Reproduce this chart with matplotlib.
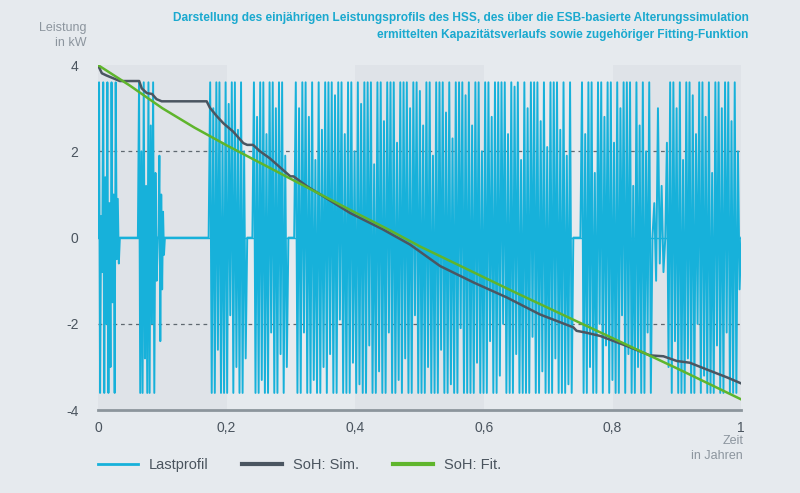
import numpy as np
import matplotlib.pyplot as plt
from matplotlib.lines import Line2D

# Lastprofil (Leistung in 0,1 kW), abschnittsweise: (Start, Ende, Werte)
seg1_vals = [0, 36, -36, 5, -8, 36, -36, 14, -20, 36, -36, 8, -30, 36, -15, 10, -36, 36, -5, 9, -6, 0]
seg2_vals = [0, 36, -36, 20, -36, 36, -28, 12, -36, 36, -36, 26, -20, 36, -36, 15, -10, 0]
seg3_vals = [0, 19, -24, 10, -12, 6, -4, 0]
seg4_vals = [0, 36, -36, 30, -36, 36, -26, 36, -36, 22, -36, 36, -36, 31, -18, 36, -36, 36, -30, 25,
             -36, 36, -36, 20, -28, 0]
seg5_vals = [0, 36, -36, 28, -36, 36, -33, 36, -36, 24, -36, 36, -22, 36, -36, 30, -36, 36, -27, 36,
             -36, 19, -30, 0]
seg6_vals = [0, 36, -36, 30, -36, 36, -22, 36, -36, 28, -36, 36, -33, 18, -36, 36, -36, 25, -30, 36, -36,
             36, -27, 36, -36, 33, -36, 36, -19, 36, -36, 24, -36, 36, -36, 36, -29, 20, -36, 36, -34,
             31, -36, 36, -36, 36, -25, 36, -36, 17, -36, 36, -31, 36, -36, 27, -36, 36, -22, 36, -36,
             36, -36, 22, -33, 36, -36, 36, -28, 36, -36, 30, -36, 36, -18, 36, -36, 34, -36, 26, -36,
             36, -30, 36, -36, 19, -36, 36, -36, 36, -26, 36, -36, 29, -36, 36, -34, 23, -36, 36, -36,
             36, -21, 36, -36, 33, -36, 36, -36, 26, -36, 36, -29, 36, -36, 20, -36, 36, -36, 36, -24,
             28, -36, 36, -36, 36, -32, 36, -20, 36, -36, 24, -36, 36, -36, 35, -27, 36, -36, 18, -36,
             36, -36, 30, -36, 36, -23, 36, -36, 36, -36, 27, -31, 36, -36, 21, -36, 36, -36, 36, -28,
             36, -36, 25, -36, 36, -36, 19, -34, 36, -36, 0]
seg7_vals = [0, 36, -36, 24, -36, 36, -30, 36, -36, 15, -36, 36, -20, 36, -36, 28, -25, 36, -36, 36,
             -33, 22, -36, 36, -36, 30, -18, 36, -36, 36, -27, 36, -36, 12, -36, 36, -30, 26, -36, 36,
             -36, 20, -22, 36, -36, 0]
seg7b_vals = [0, 8, -10, 30, -6, 12, -8, 0]
seg8_vals = [0, 22, -30, 36, -36, 36, -24, 30, -36, 36, -36, 18, -36, 36, -28, 36, -36, 33, -36, 24,
             -20, 36, -36, 36, -32, 28, -36, 36, -36, 15, -36, 36, -25, 36, -36, 30, -36, 36, -22, 36,
             -36, 27, -36, 36, -36, 20, -12, 0]
segments = [(0.0, 0.034, seg1_vals), (0.062, 0.093, seg2_vals), (0.094, 0.104, seg3_vals),
            (0.172, 0.232, seg4_vals), (0.240, 0.296, seg5_vals), (0.305, 0.739, seg6_vals),
            (0.750, 0.862, seg7_vals), (0.862, 0.882, seg7b_vals), (0.882, 1.0, seg8_vals)]

# SoH Simulation (skaliert auf Leistungsachse)
sim_t = [0, 0.006, 0.013, 0.026, 0.034, 0.064, 0.068, 0.076, 0.084, 0.091, 0.099, 0.169, 0.174, 0.185,
         0.195, 0.21, 0.226, 0.232, 0.241, 0.252, 0.267, 0.299, 0.304, 0.325, 0.35, 0.392, 0.443, 0.485,
         0.532, 0.584, 0.636, 0.687, 0.739, 0.744, 0.758, 0.781, 0.82, 0.858, 0.879, 0.9, 0.92, 0.947,
         0.978, 1.0]
sim_v = [4.0, 3.81, 3.76, 3.68, 3.63, 3.63, 3.46, 3.35, 3.33, 3.21, 3.16, 3.16, 3.01, 2.81,
         2.65, 2.46, 2.19, 2.15, 2.15, 2.0, 1.84, 1.42, 1.42, 1.19, 0.96, 0.57, 0.19, -0.16,
         -0.66, -1.04, -1.39, -1.78, -2.08, -2.16, -2.2, -2.28, -2.5, -2.73, -2.75, -2.86, -2.9, -3.06,
         -3.24, -3.38]

# SoH Fitting-Funktion
fit_t = [0, 0.05, 0.1, 0.15, 0.2, 0.25, 0.3, 0.35, 0.4, 0.45, 0.5, 0.55, 0.6, 0.65, 0.7, 0.75, 0.8,
         0.85, 0.9, 0.95, 1.0]
fit_v = [4.0, 3.52, 3.0, 2.55, 2.14, 1.75, 1.36, 0.97, 0.58, 0.2, -0.2, -0.56, -0.92, -1.28, -1.63,
         -1.98, -2.33, -2.68, -3.03, -3.39, -3.75]

x_ticks = [0, 0.2, 0.4, 0.6, 0.8, 1.0]
x_ticklabels = ['0', '0,2', '0,4', '0,6', '0,8', '1']
y_ticks = [-4, -2, 0, 2, 4]
bands = [(0.0, 0.2), (0.4, 0.6), (0.8, 1.0)]

bg = '#e6eaee'
cyan = '#17b1da'
grey = '#4b5661'
green = '#5fb52c'

plt.rcParams['font.family'] = ['Liberation Sans', 'DejaVu Sans']
plt.rcParams['axes.unicode_minus'] = False

# Lastprofil zusammensetzen
load_t, load_p = [], []
for t0, t1, vals in segments:
    load_t.extend(np.linspace(t0, t1, len(vals)))
    load_p.extend(np.array(vals) / 10.0)

fig = plt.figure(figsize=(8, 4.93), dpi=100, facecolor=bg)
ax = fig.add_axes([0.1225, 0.168, 0.804, 0.7])
ax.set_facecolor(bg)

for b0, b1 in bands:
    ax.axvspan(b0, b1, ymin=0, ymax=1, color='#dfe3e8', lw=0, zorder=0)
for gy in (2, -2):
    ax.axhline(gy, color='#5f6870', lw=0.9, ls=(0, (3, 3)), zorder=1)

ax.plot(load_t, load_p, color=cyan, lw=1.4, zorder=2)
ax.plot([0, 1], [0, 0], color=cyan, lw=1.0, zorder=2)
ax.plot(sim_t, sim_v, color=grey, lw=1.8, zorder=3)
ax.plot(fit_t, fit_v, color=green, lw=1.8, zorder=4)

ax.set_xlim(0, 1.0)
ax.set_ylim(-4, 4)
for s in ['top', 'right', 'left']:
    ax.spines[s].set_visible(False)
ax.spines['bottom'].set_color('#8c959c')
ax.spines['bottom'].set_linewidth(2)
ax.set_xticks(x_ticks)
ax.set_xticklabels(x_ticklabels)
ax.set_yticks(y_ticks)
ax.tick_params(length=0, labelsize=10, colors='#4a545e', pad=8)
ax.tick_params(axis='y', pad=14)

fig.text(0.108, 0.955, 'Leistung\nin kW', ha='right', va='top', fontsize=9, color='#8c959e',
         linespacing=1.3)
fig.text(0.929, 0.118, 'Zeit\nin Jahren', ha='right', va='top', fontsize=9, color='#8c959e',
         linespacing=1.3)
fig.text(0.936, 0.975, 'Darstellung des einjährigen Leistungsprofils des HSS, des über die ESB-basierte '
         'Alterungssimulation\nermittelten Kapazitätsverlaufs sowie zugehöriger Fitting-Funktion',
         ha='right', va='top', fontsize=8.6, fontweight='bold', color='#1aa9cf', linespacing=1.55)

handles = [Line2D([], [], color=cyan, lw=2), Line2D([], [], color=grey, lw=3),
           Line2D([], [], color=green, lw=3)]
fig.legend(handles, ['Lastprofil', 'SoH: Sim.', 'SoH: Fit.'], loc='center left',
           bbox_to_anchor=(0.106, 0.057), ncol=3, frameon=False, fontsize=10.5,
           handlelength=2.75, handletextpad=0.75, columnspacing=2.3, labelcolor='#4a545e')

fig.savefig('out.png', dpi=100, facecolor=bg)
